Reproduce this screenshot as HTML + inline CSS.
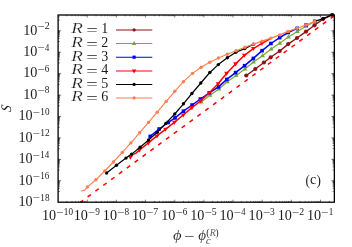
<!DOCTYPE html>
<html><head><meta charset="utf-8"><title>plot</title><style>html,body{margin:0;padding:0;background:#fff}svg{display:block}</style></head><body>
<svg width="352" height="247" viewBox="0 0 352 247">
<rect width="352" height="247" fill="#fff"/>
<clipPath id="cp"><rect x="58.1" y="13.2" width="277.45" height="189.0"/></clipPath>
<g clip-path="url(#cp)">
<polyline fill="none" stroke="#8b1418" stroke-width="1.4" stroke-linejoin="round" points="246.25,75.50 255.30,69.00 263.90,62.50 270.70,57.30 279.75,51.00 288.20,44.10 297.00,38.00 306.00,31.60 314.50,25.30 323.00,19.10 332.20,14.80"/>
<circle cx="246.25" cy="75.50" r="2.10" fill="#8b1418"/>
<circle cx="255.30" cy="69.00" r="2.10" fill="#8b1418"/>
<circle cx="263.90" cy="62.50" r="2.10" fill="#8b1418"/>
<circle cx="270.70" cy="57.30" r="2.10" fill="#8b1418"/>
<circle cx="279.75" cy="51.00" r="2.10" fill="#8b1418"/>
<circle cx="288.20" cy="44.10" r="2.10" fill="#8b1418"/>
<circle cx="297.00" cy="38.00" r="2.10" fill="#8b1418"/>
<circle cx="306.00" cy="31.60" r="2.10" fill="#8b1418"/>
<circle cx="314.50" cy="25.30" r="2.10" fill="#8b1418"/>
<circle cx="323.00" cy="19.10" r="2.10" fill="#8b1418"/>
<circle cx="332.20" cy="14.80" r="2.10" fill="#8b1418"/>
<polyline fill="none" stroke="#74a838" stroke-width="1.15" stroke-linejoin="round" points="201.30,102.00 209.90,95.30 218.90,89.00 227.30,81.70 236.10,75.50 244.90,69.00 253.55,62.00 262.50,55.70 271.20,49.05 279.85,43.15 288.40,37.00 297.30,31.40 306.10,26.30 314.70,21.50"/>
<path d="M201.30,99.39 L203.70,103.57 L198.90,103.57Z" fill="#74a838"/>
<path d="M209.90,92.69 L212.30,96.87 L207.50,96.87Z" fill="#74a838"/>
<path d="M218.90,86.39 L221.30,90.57 L216.50,90.57Z" fill="#74a838"/>
<path d="M227.30,79.09 L229.70,83.27 L224.90,83.27Z" fill="#74a838"/>
<path d="M236.10,72.89 L238.50,77.07 L233.70,77.07Z" fill="#74a838"/>
<path d="M244.90,66.39 L247.30,70.57 L242.50,70.57Z" fill="#74a838"/>
<path d="M253.55,59.39 L255.95,63.57 L251.15,63.57Z" fill="#74a838"/>
<path d="M262.50,53.09 L264.90,57.27 L260.10,57.27Z" fill="#74a838"/>
<path d="M271.20,46.44 L273.60,50.62 L268.80,50.62Z" fill="#74a838"/>
<path d="M279.85,40.54 L282.25,44.72 L277.45,44.72Z" fill="#74a838"/>
<path d="M288.40,34.39 L290.80,38.57 L286.00,38.57Z" fill="#74a838"/>
<path d="M297.30,28.79 L299.70,32.97 L294.90,32.97Z" fill="#74a838"/>
<path d="M306.10,23.69 L308.50,27.87 L303.70,27.87Z" fill="#74a838"/>
<path d="M314.70,18.89 L317.10,23.07 L312.30,23.07Z" fill="#74a838"/>
<polyline fill="none" stroke="#0000ff" stroke-width="1.5" stroke-linejoin="round" points="150.20,136.40 159.10,129.00 168.30,122.50 175.05,117.90 183.45,111.20 192.10,105.00 200.40,99.00 209.40,92.80 218.50,86.90 226.80,79.40 235.60,72.60 244.60,65.70 253.35,58.40 262.10,50.65 270.90,43.50 279.70,37.65 288.20,32.50 297.20,28.30"/>
<rect x="148.41" y="134.61" width="3.59" height="3.59" fill="#0000ff"/>
<rect x="157.31" y="127.21" width="3.59" height="3.59" fill="#0000ff"/>
<rect x="166.51" y="120.71" width="3.59" height="3.59" fill="#0000ff"/>
<rect x="173.26" y="116.11" width="3.59" height="3.59" fill="#0000ff"/>
<rect x="181.66" y="109.41" width="3.59" height="3.59" fill="#0000ff"/>
<rect x="190.31" y="103.21" width="3.59" height="3.59" fill="#0000ff"/>
<rect x="198.61" y="97.21" width="3.59" height="3.59" fill="#0000ff"/>
<rect x="207.61" y="91.01" width="3.59" height="3.59" fill="#0000ff"/>
<rect x="216.71" y="85.11" width="3.59" height="3.59" fill="#0000ff"/>
<rect x="225.01" y="77.61" width="3.59" height="3.59" fill="#0000ff"/>
<rect x="233.81" y="70.81" width="3.59" height="3.59" fill="#0000ff"/>
<rect x="242.81" y="63.91" width="3.59" height="3.59" fill="#0000ff"/>
<rect x="251.56" y="56.61" width="3.59" height="3.59" fill="#0000ff"/>
<rect x="260.31" y="48.86" width="3.59" height="3.59" fill="#0000ff"/>
<rect x="269.11" y="41.71" width="3.59" height="3.59" fill="#0000ff"/>
<rect x="277.91" y="35.86" width="3.59" height="3.59" fill="#0000ff"/>
<rect x="286.41" y="30.71" width="3.59" height="3.59" fill="#0000ff"/>
<rect x="295.41" y="26.51" width="3.59" height="3.59" fill="#0000ff"/>
<rect x="304.21" y="23.31" width="3.59" height="3.59" fill="#0000ff"/>
<rect x="312.91" y="19.61" width="3.59" height="3.59" fill="#0000ff"/>
<polyline fill="none" stroke="#ff0000" stroke-width="1.5" stroke-linejoin="round" points="130.40,157.20 133.20,154.30 135.70,153.40 139.50,150.00 148.40,142.90 156.95,135.95 165.40,129.30 174.35,122.35 183.20,115.00 191.90,107.60 200.70,100.90 209.35,92.70 218.05,83.70 226.50,73.40 235.60,63.90 244.35,55.30 253.30,48.55 262.00,43.30 270.90,38.30"/>
<path d="M130.40,159.76 L132.75,155.67 L128.05,155.67Z" fill="#ff0000"/>
<path d="M139.50,152.56 L141.85,148.47 L137.15,148.47Z" fill="#ff0000"/>
<path d="M148.40,145.46 L150.75,141.37 L146.05,141.37Z" fill="#ff0000"/>
<path d="M156.95,138.51 L159.30,134.42 L154.60,134.42Z" fill="#ff0000"/>
<path d="M165.40,131.86 L167.75,127.77 L163.05,127.77Z" fill="#ff0000"/>
<path d="M174.35,124.91 L176.70,120.82 L172.00,120.82Z" fill="#ff0000"/>
<path d="M183.20,117.56 L185.55,113.47 L180.85,113.47Z" fill="#ff0000"/>
<path d="M191.90,110.16 L194.25,106.07 L189.55,106.07Z" fill="#ff0000"/>
<path d="M200.70,103.46 L203.05,99.37 L198.35,99.37Z" fill="#ff0000"/>
<path d="M209.35,95.26 L211.70,91.17 L207.00,91.17Z" fill="#ff0000"/>
<path d="M218.05,86.26 L220.40,82.17 L215.70,82.17Z" fill="#ff0000"/>
<path d="M226.50,75.96 L228.85,71.87 L224.15,71.87Z" fill="#ff0000"/>
<path d="M235.60,66.46 L237.95,62.37 L233.25,62.37Z" fill="#ff0000"/>
<path d="M244.35,57.86 L246.70,53.77 L242.00,53.77Z" fill="#ff0000"/>
<path d="M253.30,51.11 L255.65,47.02 L250.95,47.02Z" fill="#ff0000"/>
<path d="M262.00,45.86 L264.35,41.77 L259.65,41.77Z" fill="#ff0000"/>
<polyline fill="none" stroke="#000000" stroke-width="1.2" stroke-linejoin="round" points="106.60,173.00 116.50,165.30 126.00,158.10 131.60,154.10 140.10,147.20 148.60,140.00 157.25,132.30 165.80,123.40 174.80,114.00 183.45,103.80 191.90,93.50 200.80,83.00 209.85,72.50 218.30,64.60 227.35,57.75 235.90,52.30 244.80,48.60 253.50,44.30"/>
<circle cx="106.60" cy="173.00" r="1.68" fill="#000000"/>
<circle cx="116.50" cy="165.30" r="1.68" fill="#000000"/>
<circle cx="126.00" cy="158.10" r="1.68" fill="#000000"/>
<circle cx="131.60" cy="154.10" r="1.68" fill="#000000"/>
<circle cx="140.10" cy="147.20" r="1.68" fill="#000000"/>
<circle cx="148.60" cy="140.00" r="1.68" fill="#000000"/>
<circle cx="157.25" cy="132.30" r="1.68" fill="#000000"/>
<circle cx="165.80" cy="123.40" r="1.68" fill="#000000"/>
<circle cx="174.80" cy="114.00" r="1.68" fill="#000000"/>
<circle cx="183.45" cy="103.80" r="1.68" fill="#000000"/>
<circle cx="191.90" cy="93.50" r="1.68" fill="#000000"/>
<circle cx="200.80" cy="83.00" r="1.68" fill="#000000"/>
<circle cx="209.85" cy="72.50" r="1.68" fill="#000000"/>
<circle cx="218.30" cy="64.60" r="1.68" fill="#000000"/>
<circle cx="227.35" cy="57.75" r="1.68" fill="#000000"/>
<circle cx="235.90" cy="52.30" r="1.68" fill="#000000"/>
<circle cx="244.80" cy="48.60" r="1.68" fill="#000000"/>
<circle cx="253.50" cy="44.30" r="1.68" fill="#000000"/>
<polyline fill="none" stroke="#000000" stroke-width="1.2" stroke-linejoin="round" points="314.70,21.40 323.30,18.60 332.20,14.80"/>
<circle cx="323.30" cy="18.60" r="1.68" fill="#000000"/>
<circle cx="332.20" cy="14.80" r="1.68" fill="#000000"/>
<polyline fill="none" stroke="#ff7f50" stroke-width="1.15" stroke-linejoin="round" points="81.30,191.00 84.70,190.10 87.40,186.90 95.90,179.80 104.70,171.00 113.40,162.00 122.30,152.40 130.90,142.90 139.70,132.70 148.50,122.40 157.20,112.20 166.20,101.40 174.80,91.30 183.40,81.70 192.50,73.40 201.20,67.30 209.80,62.30 218.40,58.00 227.30,54.30 236.10,50.70 244.80,47.30 253.50,44.10 262.10,41.10 270.90,38.10 279.70,34.90 288.30,31.40 297.20,28.20 306.00,25.10 314.70,21.40"/>
<circle cx="87.40" cy="186.90" r="1.72" fill="#ff7f50"/>
<circle cx="95.90" cy="179.80" r="1.72" fill="#ff7f50"/>
<circle cx="104.70" cy="171.00" r="1.72" fill="#ff7f50"/>
<circle cx="113.40" cy="162.00" r="1.72" fill="#ff7f50"/>
<circle cx="122.30" cy="152.40" r="1.72" fill="#ff7f50"/>
<circle cx="130.90" cy="142.90" r="1.72" fill="#ff7f50"/>
<circle cx="139.70" cy="132.70" r="1.72" fill="#ff7f50"/>
<circle cx="148.50" cy="122.40" r="1.72" fill="#ff7f50"/>
<circle cx="157.20" cy="112.20" r="1.72" fill="#ff7f50"/>
<circle cx="166.20" cy="101.40" r="1.72" fill="#ff7f50"/>
<circle cx="174.80" cy="91.30" r="1.72" fill="#ff7f50"/>
<circle cx="183.40" cy="81.70" r="1.72" fill="#ff7f50"/>
<circle cx="192.50" cy="73.40" r="1.72" fill="#ff7f50"/>
<circle cx="201.20" cy="67.30" r="1.72" fill="#ff7f50"/>
<circle cx="209.80" cy="62.30" r="1.72" fill="#ff7f50"/>
<circle cx="218.40" cy="58.00" r="1.72" fill="#ff7f50"/>
<circle cx="227.30" cy="54.30" r="1.72" fill="#ff7f50"/>
<circle cx="236.10" cy="50.70" r="1.72" fill="#ff7f50"/>
<circle cx="244.80" cy="47.30" r="1.72" fill="#ff7f50"/>
<circle cx="253.50" cy="44.10" r="1.72" fill="#ff7f50"/>
<circle cx="262.10" cy="41.10" r="1.72" fill="#ff7f50"/>
<circle cx="270.90" cy="38.10" r="1.72" fill="#ff7f50"/>
<circle cx="279.70" cy="34.90" r="1.72" fill="#ff7f50"/>
<circle cx="288.30" cy="31.40" r="1.72" fill="#ff7f50"/>
<circle cx="297.20" cy="28.20" r="1.72" fill="#ff7f50"/>
<circle cx="306.00" cy="25.10" r="1.72" fill="#ff7f50"/>
<circle cx="314.70" cy="21.40" r="1.72" fill="#ff7f50"/>
<line x1="79.76" y1="202.74" x2="334.35" y2="15.68" stroke="#ff0000" stroke-width="1.5" stroke-dasharray="4.15 5.58"/>
</g>
<line x1="116.0" y1="29.98" x2="152.3" y2="29.98" stroke="#8b1418" stroke-width="1.05"/>
<circle cx="134.10" cy="29.98" r="1.64" fill="#8b1418"/>
<line x1="116.0" y1="43.5" x2="152.3" y2="43.5" stroke="#74a838" stroke-width="1.05"/>
<path d="M134.10,41.02 L136.38,44.98 L131.82,44.98Z" fill="#74a838"/>
<line x1="116.0" y1="57.2" x2="152.3" y2="57.2" stroke="#0000ff" stroke-width="1.05"/>
<rect x="132.50" y="55.60" width="3.20" height="3.20" fill="#0000ff"/>
<line x1="116.0" y1="70.98" x2="152.3" y2="70.98" stroke="#ff0000" stroke-width="1.05"/>
<path d="M134.10,73.45 L136.38,69.50 L131.82,69.50Z" fill="#ff0000"/>
<line x1="116.0" y1="84.4" x2="152.3" y2="84.4" stroke="#000000" stroke-width="1.05"/>
<circle cx="134.10" cy="84.40" r="1.64" fill="#000000"/>
<line x1="116.0" y1="97.98" x2="152.3" y2="97.98" stroke="#ff7f50" stroke-width="1.05"/>
<circle cx="134.10" cy="97.98" r="1.64" fill="#ff7f50"/>
<rect x="58.1" y="15.0" width="276.25" height="187.2" fill="none" stroke="#000" stroke-width="1.3"/>
<path d="M66.88,202.2v-1.3M66.88,15.0v1.3M72.01,202.2v-1.3M72.01,15.0v1.3M75.65,202.2v-1.3M75.65,15.0v1.3M78.48,202.2v-1.3M78.48,15.0v1.3M80.79,202.2v-1.3M80.79,15.0v1.3M82.74,202.2v-1.3M82.74,15.0v1.3M84.43,202.2v-1.3M84.43,15.0v1.3M85.92,202.2v-1.3M85.92,15.0v1.3M87.26,202.2v-2.5M87.26,15.0v2.5M96.03,202.2v-1.3M96.03,15.0v1.3M101.17,202.2v-1.3M101.17,15.0v1.3M104.81,202.2v-1.3M104.81,15.0v1.3M107.63,202.2v-1.3M107.63,15.0v1.3M109.94,202.2v-1.3M109.94,15.0v1.3M111.89,202.2v-1.3M111.89,15.0v1.3M113.59,202.2v-1.3M113.59,15.0v1.3M115.08,202.2v-1.3M115.08,15.0v1.3M116.41,202.2v-2.5M116.41,15.0v2.5M125.19,202.2v-1.3M125.19,15.0v1.3M130.32,202.2v-1.3M130.32,15.0v1.3M133.96,202.2v-1.3M133.96,15.0v1.3M136.79,202.2v-1.3M136.79,15.0v1.3M139.10,202.2v-1.3M139.10,15.0v1.3M141.05,202.2v-1.3M141.05,15.0v1.3M142.74,202.2v-1.3M142.74,15.0v1.3M144.23,202.2v-1.3M144.23,15.0v1.3M145.57,202.2v-2.5M145.57,15.0v2.5M154.34,202.2v-1.3M154.34,15.0v1.3M159.48,202.2v-1.3M159.48,15.0v1.3M163.12,202.2v-1.3M163.12,15.0v1.3M165.95,202.2v-1.3M165.95,15.0v1.3M168.25,202.2v-1.3M168.25,15.0v1.3M170.21,202.2v-1.3M170.21,15.0v1.3M171.90,202.2v-1.3M171.90,15.0v1.3M173.39,202.2v-1.3M173.39,15.0v1.3M174.72,202.2v-2.5M174.72,15.0v2.5M183.50,202.2v-1.3M183.50,15.0v1.3M188.63,202.2v-1.3M188.63,15.0v1.3M192.28,202.2v-1.3M192.28,15.0v1.3M195.10,202.2v-1.3M195.10,15.0v1.3M197.41,202.2v-1.3M197.41,15.0v1.3M199.36,202.2v-1.3M199.36,15.0v1.3M201.05,202.2v-1.3M201.05,15.0v1.3M202.54,202.2v-1.3M202.54,15.0v1.3M203.88,202.2v-2.5M203.88,15.0v2.5M212.65,202.2v-1.3M212.65,15.0v1.3M217.79,202.2v-1.3M217.79,15.0v1.3M221.43,202.2v-1.3M221.43,15.0v1.3M224.26,202.2v-1.3M224.26,15.0v1.3M226.57,202.2v-1.3M226.57,15.0v1.3M228.52,202.2v-1.3M228.52,15.0v1.3M230.21,202.2v-1.3M230.21,15.0v1.3M231.70,202.2v-1.3M231.70,15.0v1.3M233.03,202.2v-2.5M233.03,15.0v2.5M241.81,202.2v-1.3M241.81,15.0v1.3M246.94,202.2v-1.3M246.94,15.0v1.3M250.59,202.2v-1.3M250.59,15.0v1.3M253.41,202.2v-1.3M253.41,15.0v1.3M255.72,202.2v-1.3M255.72,15.0v1.3M257.67,202.2v-1.3M257.67,15.0v1.3M259.36,202.2v-1.3M259.36,15.0v1.3M260.85,202.2v-1.3M260.85,15.0v1.3M262.19,202.2v-2.5M262.19,15.0v2.5M270.97,202.2v-1.3M270.97,15.0v1.3M276.10,202.2v-1.3M276.10,15.0v1.3M279.74,202.2v-1.3M279.74,15.0v1.3M282.57,202.2v-1.3M282.57,15.0v1.3M284.88,202.2v-1.3M284.88,15.0v1.3M286.83,202.2v-1.3M286.83,15.0v1.3M288.52,202.2v-1.3M288.52,15.0v1.3M290.01,202.2v-1.3M290.01,15.0v1.3M291.34,202.2v-2.5M291.34,15.0v2.5M300.12,202.2v-1.3M300.12,15.0v1.3M305.26,202.2v-1.3M305.26,15.0v1.3M308.90,202.2v-1.3M308.90,15.0v1.3M311.72,202.2v-1.3M311.72,15.0v1.3M314.03,202.2v-1.3M314.03,15.0v1.3M315.98,202.2v-1.3M315.98,15.0v1.3M317.67,202.2v-1.3M317.67,15.0v1.3M319.17,202.2v-1.3M319.17,15.0v1.3M320.50,202.2v-2.5M320.50,15.0v2.5M329.28,202.2v-1.3M329.28,15.0v1.3" stroke="#000" stroke-width="0.5" fill="none"/>
<path d="M58.1,191.49h1.7M334.35,191.49h-1.7M58.1,188.26h1.7M334.35,188.26h-1.7M58.1,186.38h1.7M334.35,186.38h-1.7M58.1,185.04h1.7M334.35,185.04h-1.7M58.1,184.00h1.7M334.35,184.00h-1.7M58.1,183.15h1.7M334.35,183.15h-1.7M58.1,182.44h1.7M334.35,182.44h-1.7M58.1,181.82h1.7M334.35,181.82h-1.7M58.1,181.27h1.7M334.35,181.27h-1.7M58.1,180.78h3.0M334.35,180.78h-3.0M58.1,170.07h1.7M334.35,170.07h-1.7M58.1,166.84h1.7M334.35,166.84h-1.7M58.1,164.96h1.7M334.35,164.96h-1.7M58.1,163.62h1.7M334.35,163.62h-1.7M58.1,162.58h1.7M334.35,162.58h-1.7M58.1,161.73h1.7M334.35,161.73h-1.7M58.1,161.01h1.7M334.35,161.01h-1.7M58.1,160.39h1.7M334.35,160.39h-1.7M58.1,159.85h1.7M334.35,159.85h-1.7M58.1,159.36h3.0M334.35,159.36h-3.0M58.1,148.64h1.7M334.35,148.64h-1.7M58.1,145.42h1.7M334.35,145.42h-1.7M58.1,143.53h1.7M334.35,143.53h-1.7M58.1,142.20h1.7M334.35,142.20h-1.7M58.1,141.16h1.7M334.35,141.16h-1.7M58.1,140.31h1.7M334.35,140.31h-1.7M58.1,139.59h1.7M334.35,139.59h-1.7M58.1,138.97h1.7M334.35,138.97h-1.7M58.1,138.42h1.7M334.35,138.42h-1.7M58.1,137.93h3.0M334.35,137.93h-3.0M58.1,127.22h1.7M334.35,127.22h-1.7M58.1,124.00h1.7M334.35,124.00h-1.7M58.1,122.11h1.7M334.35,122.11h-1.7M58.1,120.77h1.7M334.35,120.77h-1.7M58.1,119.74h1.7M334.35,119.74h-1.7M58.1,118.89h1.7M334.35,118.89h-1.7M58.1,118.17h1.7M334.35,118.17h-1.7M58.1,117.55h1.7M334.35,117.55h-1.7M58.1,117.00h1.7M334.35,117.00h-1.7M58.1,116.51h3.0M334.35,116.51h-3.0M58.1,105.80h1.7M334.35,105.80h-1.7M58.1,102.58h1.7M334.35,102.58h-1.7M58.1,100.69h1.7M334.35,100.69h-1.7M58.1,99.35h1.7M334.35,99.35h-1.7M58.1,98.31h1.7M334.35,98.31h-1.7M58.1,97.46h1.7M334.35,97.46h-1.7M58.1,96.75h1.7M334.35,96.75h-1.7M58.1,96.13h1.7M334.35,96.13h-1.7M58.1,95.58h1.7M334.35,95.58h-1.7M58.1,95.09h3.0M334.35,95.09h-3.0M58.1,84.38h1.7M334.35,84.38h-1.7M58.1,81.15h1.7M334.35,81.15h-1.7M58.1,79.27h1.7M334.35,79.27h-1.7M58.1,77.93h1.7M334.35,77.93h-1.7M58.1,76.89h1.7M334.35,76.89h-1.7M58.1,76.04h1.7M334.35,76.04h-1.7M58.1,75.33h1.7M334.35,75.33h-1.7M58.1,74.70h1.7M334.35,74.70h-1.7M58.1,74.16h1.7M334.35,74.16h-1.7M58.1,73.67h3.0M334.35,73.67h-3.0M58.1,62.96h1.7M334.35,62.96h-1.7M58.1,59.73h1.7M334.35,59.73h-1.7M58.1,57.84h1.7M334.35,57.84h-1.7M58.1,56.51h1.7M334.35,56.51h-1.7M58.1,55.47h1.7M334.35,55.47h-1.7M58.1,54.62h1.7M334.35,54.62h-1.7M58.1,53.90h1.7M334.35,53.90h-1.7M58.1,53.28h1.7M334.35,53.28h-1.7M58.1,52.73h1.7M334.35,52.73h-1.7M58.1,52.24h3.0M334.35,52.24h-3.0M58.1,41.53h1.7M334.35,41.53h-1.7M58.1,38.31h1.7M334.35,38.31h-1.7M58.1,36.42h1.7M334.35,36.42h-1.7M58.1,35.08h1.7M334.35,35.08h-1.7M58.1,34.05h1.7M334.35,34.05h-1.7M58.1,33.20h1.7M334.35,33.20h-1.7M58.1,32.48h1.7M334.35,32.48h-1.7M58.1,31.86h1.7M334.35,31.86h-1.7M58.1,31.31h1.7M334.35,31.31h-1.7M58.1,30.82h3.0M334.35,30.82h-3.0M58.1,20.11h1.7M334.35,20.11h-1.7M58.1,16.89h1.7M334.35,16.89h-1.7" stroke="#000" stroke-width="0.55" fill="none"/>
<filter id="gs" x="0" y="0" width="100%" height="100%" filterUnits="userSpaceOnUse"><feOffset dx="0" dy="0"/></filter>
<g font-family="'Liberation Serif', serif" filter="url(#gs)">
<text transform="translate(42.00,220.30) scale(0.946,1)" font-size="15.0" fill="#1c1c1c">10</text>
<text transform="translate(56.36,215.70) scale(1.302,1)" font-size="9.9" fill="#1c1c1c">−</text>
<text transform="translate(63.84,214.80) scale(0.930,1)" font-size="9.9" fill="#1c1c1c">10</text>
<text transform="translate(73.66,220.30) scale(0.946,1)" font-size="15.0" fill="#1c1c1c">10</text>
<text transform="translate(88.01,215.70) scale(1.302,1)" font-size="9.9" fill="#1c1c1c">−</text>
<text transform="translate(95.31,214.80) scale(0.935,1)" font-size="9.9" fill="#1c1c1c">9</text>
<text transform="translate(102.81,220.30) scale(0.946,1)" font-size="15.0" fill="#1c1c1c">10</text>
<text transform="translate(117.17,215.70) scale(1.302,1)" font-size="9.9" fill="#1c1c1c">−</text>
<text transform="translate(124.41,214.80) scale(0.941,1)" font-size="9.9" fill="#1c1c1c">8</text>
<text transform="translate(131.97,220.30) scale(0.946,1)" font-size="15.0" fill="#1c1c1c">10</text>
<text transform="translate(146.32,215.70) scale(1.302,1)" font-size="9.9" fill="#1c1c1c">−</text>
<text transform="translate(153.27,214.80) scale(0.984,1)" font-size="9.9" fill="#1c1c1c">7</text>
<text transform="translate(161.13,220.30) scale(0.946,1)" font-size="15.0" fill="#1c1c1c">10</text>
<text transform="translate(175.48,215.70) scale(1.302,1)" font-size="9.9" fill="#1c1c1c">−</text>
<text transform="translate(182.67,214.80) scale(0.934,1)" font-size="9.9" fill="#1c1c1c">6</text>
<text transform="translate(190.28,220.30) scale(0.946,1)" font-size="15.0" fill="#1c1c1c">10</text>
<text transform="translate(204.64,215.70) scale(1.302,1)" font-size="9.9" fill="#1c1c1c">−</text>
<text transform="translate(211.66,214.80) scale(0.990,1)" font-size="9.9" fill="#1c1c1c">5</text>
<text transform="translate(219.44,220.30) scale(0.946,1)" font-size="15.0" fill="#1c1c1c">10</text>
<text transform="translate(233.79,215.70) scale(1.302,1)" font-size="9.9" fill="#1c1c1c">−</text>
<text transform="translate(241.22,214.80) scale(0.858,1)" font-size="9.9" fill="#1c1c1c">4</text>
<text transform="translate(248.59,220.30) scale(0.946,1)" font-size="15.0" fill="#1c1c1c">10</text>
<text transform="translate(262.95,215.70) scale(1.302,1)" font-size="9.9" fill="#1c1c1c">−</text>
<text transform="translate(270.08,214.80) scale(0.966,1)" font-size="9.9" fill="#1c1c1c">3</text>
<text transform="translate(277.75,220.30) scale(0.946,1)" font-size="15.0" fill="#1c1c1c">10</text>
<text transform="translate(292.10,215.70) scale(1.302,1)" font-size="9.9" fill="#1c1c1c">−</text>
<text transform="translate(299.26,214.80) scale(0.995,1)" font-size="9.9" fill="#1c1c1c">2</text>
<text transform="translate(306.90,220.30) scale(0.946,1)" font-size="15.0" fill="#1c1c1c">10</text>
<text transform="translate(321.26,215.70) scale(1.302,1)" font-size="9.9" fill="#1c1c1c">−</text>
<text transform="translate(328.74,214.80) scale(0.932,1)" font-size="9.9" fill="#1c1c1c">1</text>
<text transform="translate(18.45,206.00) scale(0.946,1)" font-size="15.0" fill="#1c1c1c">10</text>
<text transform="translate(32.81,201.40) scale(1.302,1)" font-size="9.9" fill="#1c1c1c">−</text>
<text transform="translate(40.29,200.50) scale(0.930,1)" font-size="9.9" fill="#1c1c1c">18</text>
<text transform="translate(18.45,184.58) scale(0.946,1)" font-size="15.0" fill="#1c1c1c">10</text>
<text transform="translate(32.81,179.98) scale(1.302,1)" font-size="9.9" fill="#1c1c1c">−</text>
<text transform="translate(40.30,179.08) scale(0.922,1)" font-size="9.9" fill="#1c1c1c">16</text>
<text transform="translate(18.45,163.16) scale(0.946,1)" font-size="15.0" fill="#1c1c1c">10</text>
<text transform="translate(32.81,158.56) scale(1.302,1)" font-size="9.9" fill="#1c1c1c">−</text>
<text transform="translate(40.31,157.66) scale(0.907,1)" font-size="9.9" fill="#1c1c1c">14</text>
<text transform="translate(18.45,141.73) scale(0.946,1)" font-size="15.0" fill="#1c1c1c">10</text>
<text transform="translate(32.81,137.13) scale(1.302,1)" font-size="9.9" fill="#1c1c1c">−</text>
<text transform="translate(40.27,136.23) scale(0.949,1)" font-size="9.9" fill="#1c1c1c">12</text>
<text transform="translate(18.45,120.31) scale(0.946,1)" font-size="15.0" fill="#1c1c1c">10</text>
<text transform="translate(32.81,115.71) scale(1.302,1)" font-size="9.9" fill="#1c1c1c">−</text>
<text transform="translate(40.29,114.81) scale(0.930,1)" font-size="9.9" fill="#1c1c1c">10</text>
<text transform="translate(23.25,98.89) scale(0.946,1)" font-size="15.0" fill="#1c1c1c">10</text>
<text transform="translate(37.61,94.29) scale(1.302,1)" font-size="9.9" fill="#1c1c1c">−</text>
<text transform="translate(44.85,93.39) scale(0.941,1)" font-size="9.9" fill="#1c1c1c">8</text>
<text transform="translate(23.25,77.47) scale(0.946,1)" font-size="15.0" fill="#1c1c1c">10</text>
<text transform="translate(37.61,72.87) scale(1.302,1)" font-size="9.9" fill="#1c1c1c">−</text>
<text transform="translate(44.80,71.97) scale(0.934,1)" font-size="9.9" fill="#1c1c1c">6</text>
<text transform="translate(23.25,56.04) scale(0.946,1)" font-size="15.0" fill="#1c1c1c">10</text>
<text transform="translate(37.61,51.44) scale(1.302,1)" font-size="9.9" fill="#1c1c1c">−</text>
<text transform="translate(45.03,50.54) scale(0.858,1)" font-size="9.9" fill="#1c1c1c">4</text>
<text transform="translate(23.25,34.62) scale(0.946,1)" font-size="15.0" fill="#1c1c1c">10</text>
<text transform="translate(37.61,30.02) scale(1.302,1)" font-size="9.9" fill="#1c1c1c">−</text>
<text transform="translate(44.77,29.12) scale(0.995,1)" font-size="9.9" fill="#1c1c1c">2</text>
<text transform="translate(71.30,33.28) scale(1.358,1)" font-size="14.0" font-style="italic" fill="#1c1c1c" stroke="#fff" stroke-width="0.2">R</text>
<text transform="translate(86.28,35.03) scale(1.458,1)" font-size="14.0" fill="#1c1c1c">=</text>
<text x="101.2" y="33.28" font-size="14.0" fill="#1c1c1c">1</text>
<text transform="translate(71.30,46.80) scale(1.358,1)" font-size="14.0" font-style="italic" fill="#1c1c1c" stroke="#fff" stroke-width="0.2">R</text>
<text transform="translate(86.28,48.55) scale(1.458,1)" font-size="14.0" fill="#1c1c1c">=</text>
<text x="101.2" y="46.80" font-size="14.0" fill="#1c1c1c">2</text>
<text transform="translate(71.30,60.50) scale(1.358,1)" font-size="14.0" font-style="italic" fill="#1c1c1c" stroke="#fff" stroke-width="0.2">R</text>
<text transform="translate(86.28,62.25) scale(1.458,1)" font-size="14.0" fill="#1c1c1c">=</text>
<text x="101.2" y="60.50" font-size="14.0" fill="#1c1c1c">3</text>
<text transform="translate(71.30,74.28) scale(1.358,1)" font-size="14.0" font-style="italic" fill="#1c1c1c" stroke="#fff" stroke-width="0.2">R</text>
<text transform="translate(86.28,76.03) scale(1.458,1)" font-size="14.0" fill="#1c1c1c">=</text>
<text x="101.2" y="74.28" font-size="14.0" fill="#1c1c1c">4</text>
<text transform="translate(71.30,87.70) scale(1.358,1)" font-size="14.0" font-style="italic" fill="#1c1c1c" stroke="#fff" stroke-width="0.2">R</text>
<text transform="translate(86.28,89.45) scale(1.458,1)" font-size="14.0" fill="#1c1c1c">=</text>
<text x="101.2" y="87.70" font-size="14.0" fill="#1c1c1c">5</text>
<text transform="translate(71.30,101.28) scale(1.358,1)" font-size="14.0" font-style="italic" fill="#1c1c1c" stroke="#fff" stroke-width="0.2">R</text>
<text transform="translate(86.28,103.03) scale(1.458,1)" font-size="14.0" fill="#1c1c1c">=</text>
<text x="101.2" y="101.28" font-size="14.0" fill="#1c1c1c">6</text>
<text transform="translate(305.42,184.60) scale(0.865,1)" font-size="15.3" fill="#1c1c1c">(</text>
<text transform="translate(309.96,184.30) scale(0.955,1)" font-size="14.8" fill="#1c1c1c">c</text>
<text transform="translate(316.57,184.60) scale(0.865,1)" font-size="15.3" fill="#1c1c1c">)</text>
<text transform="translate(11.1,112.15) rotate(-90) skewX(-9.0) scale(0.880,1)" font-size="14.6" font-style="italic" fill="#1c1c1c">S</text>
<text transform="translate(173.12,240.40) scale(1.182,1)" font-size="14.0" font-style="italic" fill="#1c1c1c" stroke="#fff" stroke-width="0.1">ϕ</text>
<text transform="translate(184.07,241.10) scale(1.385,1)" font-size="13.5" fill="#1c1c1c">−</text>
<text transform="translate(198.15,240.40) scale(1.076,1)" font-size="14.0" font-style="italic" fill="#1c1c1c" stroke="#fff" stroke-width="0.1">ϕ</text>
<text transform="translate(206.17,235.70) scale(0.885,1)" font-size="11.0" fill="#1c1c1c">(</text>
<text transform="translate(209.65,235.70) scale(0.981,1)" font-size="10.2" font-style="italic" fill="#1c1c1c" stroke="#fff" stroke-width="0.2">R</text>
<text transform="translate(215.60,235.70) scale(0.849,1)" font-size="11.0" fill="#1c1c1c">)</text>
<text transform="translate(205.63,243.50) scale(1.194,1)" font-size="10.2" font-style="italic" fill="#1c1c1c" stroke="#fff" stroke-width="0.15">c</text>
</g>
</svg>
</body></html>
